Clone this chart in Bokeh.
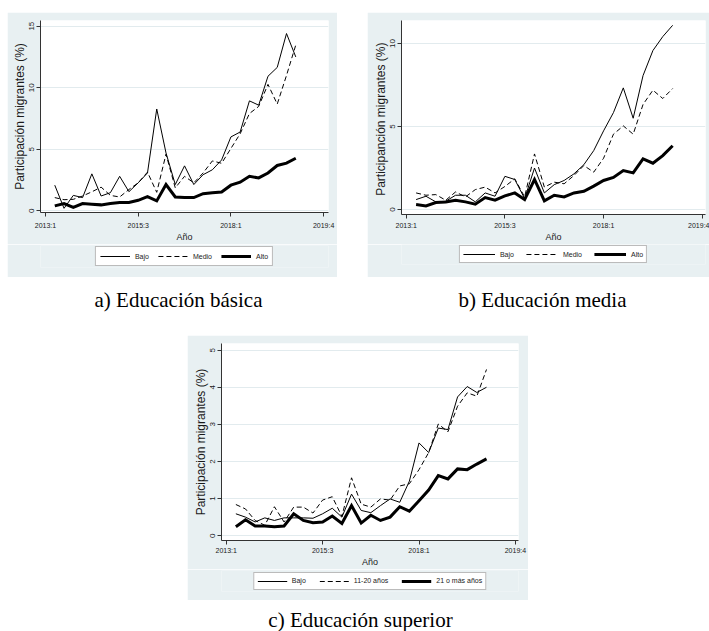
from bokeh.plotting import figure
from bokeh.models import FixedTicker, Legend, LegendItem, Label, Spacer, Range1d
from bokeh.layouts import column, row
from bokeh.embed import file_html
from bokeh.resources import INLINE

# ---------------- data ----------------
quarters = list(range(1, 28))
x_tick_pos = [0, 10, 20, 30]
x_tick_labels = ["2013:1", "2015:3", "2018:1", "2019:4"]

basica_bajo = [2.08, 0.2, 1.25, 1.07, 3.0, 1.2, 1.47, 2.8, 1.55, 2.27, 3.07, 8.27, 4.7, 2.13,
               3.65, 2.13, 2.93, 3.33, 4.13, 6.0, 6.4, 8.93, 8.58, 10.93, 11.65, 14.4, 12.5]
basica_medio = [1.07, 0.9, 0.93, 1.2, 1.54, 1.92, 1.25, 1.12, 1.73, 2.27, 3.14, 1.5, 4.6, 1.86,
                2.8, 2.27, 3.07, 4.05, 3.86, 5.06, 6.26, 7.9, 8.48, 10.27, 8.67, 11.0, 13.47]
basica_alto = [0.4, 0.59, 0.27, 0.59, 0.53, 0.48, 0.59, 0.67, 0.67, 0.85, 1.15, 0.8, 2.13, 1.12,
               1.07, 1.07, 1.39, 1.47, 1.52, 2.08, 2.32, 2.8, 2.67, 3.07, 3.68, 3.87, 4.27]

media_bajo = [0.6, 0.8, 0.46, 0.5, 0.86, 0.86, 0.46, 1.0, 0.8, 2.0, 1.81, 0.66, 2.5, 1.0,
              1.5, 1.75, 2.15, 2.7, 3.55, 4.74, 5.84, 7.33, 5.5, 8.07, 9.58, 10.42, 11.1]
media_medio = [1.0, 0.86, 0.9, 0.56, 1.06, 0.76, 1.2, 1.35, 1.0, 1.39, 1.85, 0.76, 3.35, 1.35,
               1.65, 1.55, 2.05, 2.65, 2.25, 3.09, 4.54, 5.04, 4.54, 6.33, 7.19, 6.69, 7.29]
media_alto = [0.3, 0.22, 0.42, 0.46, 0.56, 0.46, 0.32, 0.72, 0.56, 0.82, 1.0, 0.6, 1.81, 0.52,
              0.86, 0.76, 1.0, 1.1, 1.41, 1.75, 1.93, 2.35, 2.21, 3.05, 2.79, 3.25, 3.84]

superior_bajo = [0.59, 0.5, 0.37, 0.48, 0.41, 0.48, 0.48, 0.48, 0.47, 0.59, 0.74, 0.5, 1.12, 0.68,
                 0.62, 0.81, 0.99, 0.9, 1.47, 2.5, 2.24, 2.9, 2.86, 3.74, 4.02, 3.86, 4.0]
superior_11_20 = [0.84, 0.72, 0.41, 0.28, 0.78, 0.37, 0.77, 0.77, 0.61, 0.96, 1.05, 0.52, 1.56, 0.85,
                  0.77, 0.99, 0.96, 1.34, 1.4, 1.78, 2.24, 3.01, 2.8, 3.49, 3.85, 3.76, 4.48]
superior_21 = [0.24, 0.43, 0.26, 0.26, 0.24, 0.26, 0.59, 0.41, 0.35, 0.37, 0.53, 0.33, 0.81, 0.34,
               0.55, 0.41, 0.5, 0.78, 0.66, 0.94, 1.23, 1.62, 1.53, 1.8, 1.78, 1.93, 2.07]

labels_ab = ["Bajo", "Medio", "Alto"]
labels_c = ["Bajo", "11-20 años", "21 o más años"]
captions = ["a) Educación básica", "b) Educación media", "c) Educación superior"]

BG = "#E8F0F2"
GRID = "#E2EBEE"
INK = "#1a1a1a"
SANS = "Liberation Sans"

STYLES = [dict(line_width=1.0, line_dash="solid"),
          dict(line_width=1.0, line_dash="5 3"),
          dict(line_width=3.0, line_dash="solid")]


def make_plot(width, height, borders, xr, yr, yticks, ylabel, series, label_standoff):
    p = figure(width=width, height=height, output_backend="svg", toolbar_location=None,
               x_range=Range1d(*xr), y_range=Range1d(*yr),
               min_border_left=borders[0], min_border_right=borders[1],
               min_border_top=borders[2], min_border_bottom=borders[3])
    p.background_fill_color = "white"
    p.border_fill_color = BG
    p.outline_line_color = None
    p.xgrid.visible = False
    p.ygrid.ticker = FixedTicker(ticks=yticks)
    p.ygrid.grid_line_color = GRID
    p.ygrid.grid_line_width = 1

    p.xaxis.ticker = FixedTicker(ticks=x_tick_pos)
    p.xaxis.major_label_overrides = {t: l for t, l in zip(x_tick_pos, x_tick_labels)}
    p.yaxis.ticker = FixedTicker(ticks=yticks)
    p.xaxis.axis_label = "Año"
    p.yaxis.axis_label = ylabel
    for ax in (p.xaxis, p.yaxis):
        ax.axis_line_color = "#333333"
        ax.major_tick_line_color = "#333333"
        ax.minor_tick_line_color = None
        ax.major_tick_out = 4
        ax.major_tick_in = 0
        ax.major_label_text_font = SANS
        ax.major_label_text_font_size = "7px"
        ax.major_label_text_color = INK
        ax.axis_label_text_font = SANS
        ax.axis_label_text_font_style = "normal"
        ax.axis_label_text_color = INK
    p.yaxis.major_label_text_font_size = "8px"
    p.xaxis.major_label_standoff = label_standoff
    p.xaxis.axis_label_standoff = 0
    p.xaxis.axis_label_text_font_size = "9px"
    p.yaxis.major_label_orientation = "vertical"
    p.yaxis.major_label_standoff = 2
    p.yaxis.axis_label_standoff = 0
    p.yaxis.axis_label_text_font_size = "12px"

    for ys, st in zip(series, STYLES):
        p.line(quarters, ys, line_color="black", line_join="miter", **st)
    return p


def make_legend(width, height, borders, series, names, glyph_w, spacing, padding):
    # the series are drawn here too, but outside this strip's visible y range,
    # so only the legend samples appear
    f = figure(width=width, height=height, output_backend="svg", toolbar_location=None,
               x_range=Range1d(0, 30), y_range=Range1d(-1000, -999),
               min_border_left=borders[0], min_border_right=borders[1],
               min_border_top=borders[2], min_border_bottom=borders[3])
    f.axis.visible = False
    f.grid.visible = False
    f.outline_line_color = None
    f.background_fill_color = BG
    f.border_fill_color = BG
    items = []
    for ys, nm, st in zip(series, names, STYLES):
        r = f.line(quarters, ys, line_color="black", **st)
        items.append(LegendItem(label=nm, renderers=[r]))
    leg = Legend(items=items, orientation="horizontal", location="center",
                 border_line_color="#777777", border_line_width=1,
                 background_fill_color="white", background_fill_alpha=1.0,
                 label_text_font=SANS, label_text_font_size="7px", label_text_color=INK,
                 glyph_width=glyph_w, glyph_height=10, label_height=10, label_width=0,
                 label_standoff=5, spacing=spacing, padding=padding, margin=0)
    f.add_layout(leg, "center")
    return f


def make_caption(width, height, cx, base_y, text):
    c = figure(width=width, height=height, output_backend="svg", toolbar_location=None,
               x_range=Range1d(0, 1), y_range=Range1d(0, 1), min_border=0)
    c.axis.visible = False
    c.grid.visible = False
    c.outline_line_color = None
    c.background_fill_color = "white"
    c.border_fill_color = "white"
    c.add_layout(Label(x=cx, y=base_y, x_units="screen", y_units="screen", text=text,
                       text_align="center", text_baseline="alphabetic",
                       text_font="Liberation Serif", text_font_size="21px",
                       text_color="black"))
    return c


series_a = [basica_bajo, basica_medio, basica_alto]
series_b = [media_bajo, media_medio, media_alto]
series_c = [superior_bajo, superior_11_20, superior_21]

# panel a: page box (7,12)-(337,277)
pa = make_plot(330, 232, (33, 9, 8, 29), (-0.54, 30.53), (-0.14, 15.46), [0, 5, 10, 15],
               "Participación migrantes (%)", series_a, 5)
la = make_legend(330, 33, (33, 9, 1, 10), series_a, labels_ab, 30, 9, 4)

# panel b: page box (367,12)-(709,277)
pb = make_plot(342, 232, (34, 4, 8, 27), (-0.48, 30.33), (-0.3, 11.39), [0, 5, 10],
               "Participanción  migrantes (%)", series_b, 3)
lb = make_legend(342, 33, (34, 4, 0, 13), series_b, labels_ab, 32, 12, 3)

# panel c: page box (187,335)-(528,600)
pc = make_plot(341, 234, (34, 10, 8, 25), (-0.49, 30.32), (-0.13, 5.18), [0, 1, 2, 3, 4, 5],
               "Participación migrantes (%)", series_c, 2)
lc = make_legend(341, 31, (34, 10, 1, 9), series_c, labels_c, 30, 13, 3)

cap_a = make_caption(360, 58, 171, 36, captions[0])
cap_b = make_caption(342, 58, 175, 36, captions[1])
cap_c = make_caption(709, 31, 360, 12, captions[2])

layout = column(
    Spacer(width=709, height=12),
    row(Spacer(width=7, height=265), column(pa, la), Spacer(width=30, height=265), column(pb, lb)),
    row(Spacer(width=7, height=58), cap_a, cap_b),
    row(Spacer(width=187, height=265), column(pc, lc)),
    cap_c,
)

open("out.html", "w").write(file_html(layout, INLINE))
